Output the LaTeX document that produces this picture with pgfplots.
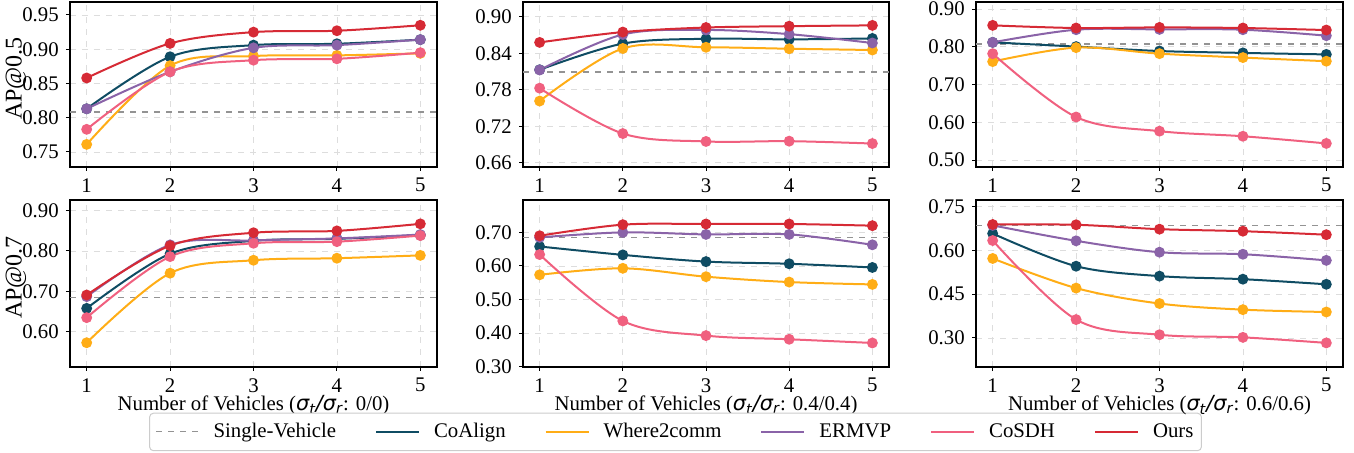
\documentclass[border=0pt]{standalone}
\usepackage{fontspec}
\setmainfont{Liberation Serif}
\newfontfamily\dv{DejaVu Sans}
\usepackage{pgfplots}
\pgfplotsset{compat=1.18}
\definecolor{coalign}{HTML}{0F4C63}
\definecolor{w2c}{HTML}{FFAD16}
\definecolor{ermvp}{HTML}{8A63A8}
\definecolor{cosdh}{HTML}{F0607F}
\definecolor{ours}{HTML}{D62A35}
\definecolor{gridc}{HTML}{DDDDDD}
\newcommand{\xl}[1]{Number of Vehicles ({\dv\itshape σ\textsubscript{t}/σ\textsubscript{r}}: #1)}
\pgfplotsset{
  common/.style={
    scale only axis,
    anchor=north west,
    xmin=0.8, xmax=5.2,
    xtick={1,2,3,4,5},
    xtick pos=left, ytick pos=left,
    tick align=outside,
    major tick length=2pt,
    grid=major,
    grid style={gridc, dashed, line width=0.4pt},
    axis line style={black, line width=0.6pt},
    every tick/.style={black, line width=0.5pt},
    tick label style={font=\fontsize{10.4}{12}\selectfont},
    label style={font=\fontsize{10.4}{12}\selectfont},
    yticklabel style={/pgf/number format/.cd, fixed, fixed zerofill, precision=2, assume math mode=true},
    xticklabel style={/pgf/number format/assume math mode=true},
    every axis plot/.append style={smooth, tension=0.55, line width=1pt, mark=*, mark size=2.2pt},
    xlabel style={yshift=5.5pt},
    ylabel style={at={(axis description cs:0,0.5)}, anchor=center, yshift=27pt, xshift=3pt,
      font=\fontsize{12}{14}\selectfont},
  },
  sv/.style={gray!85, dashed, line width=0.8pt, mark=none, sharp plot},
}
\begin{document}
\fontsize{10.4pt}{12pt}\selectfont
\begin{tikzpicture}
\useasboundingbox (0pt,0pt) rectangle (677pt,-226.5pt);
% ---------------- top-left
\begin{axis}[common, at={(35pt,-1pt)}, width=183.5pt, height=82.5pt,
  ymin=0.728, ymax=0.969, ytick={0.75,0.80,0.85,0.90,0.95}, ylabel={AP@0.5}]
\addplot[sv] coordinates {(0.8,0.8085) (5.2,0.8085)};
\addplot[coalign] coordinates {(1,0.813) (2,0.889) (3,0.906) (4,0.908) (5,0.914)};
\addplot[w2c] coordinates {(1,0.761) (2,0.876) (3,0.890) (4,0.891) (5,0.894)};
\addplot[ermvp] coordinates {(1,0.813) (2,0.867) (3,0.902) (4,0.906) (5,0.914)};
\addplot[cosdh] coordinates {(1,0.783) (2,0.867) (3,0.884) (4,0.886) (5,0.895)};
\addplot[ours] coordinates {(1,0.858) (2,0.9085) (3,0.925) (4,0.927) (5,0.935)};
\end{axis}
% ---------------- top-middle
\begin{axis}[common, at={(261.5pt,-1pt)}, width=183pt, height=82.5pt,
  ymin=0.653, ymax=0.9245, ytick={0.66,0.72,0.78,0.84,0.90}]
\addplot[sv] coordinates {(0.8,0.809) (5.2,0.809)};
\addplot[coalign] coordinates {(1,0.813) (2,0.856) (3,0.864) (4,0.863) (5,0.8645)};
\addplot[w2c] coordinates {(1,0.7615) (2,0.848) (3,0.850) (4,0.8476) (5,0.8455)};
\addplot[ermvp] coordinates {(1,0.8127) (2,0.871) (3,0.8785) (4,0.8716) (5,0.857)};
\addplot[cosdh] coordinates {(1,0.7827) (2,0.708) (3,0.695) (4,0.6955) (5,0.6916)};
\addplot[ours] coordinates {(1,0.858) (2,0.875) (3,0.8825) (4,0.8847) (5,0.886)};
\end{axis}
% ---------------- top-right
\begin{axis}[common, at={(488pt,-1pt)}, width=183.5pt, height=82.5pt,
  ymin=0.4815, ymax=0.919, ytick={0.5,0.6,0.7,0.8,0.9}]
\addplot[sv] coordinates {(0.8,0.8077) (5.2,0.8077)};
\addplot[coalign] coordinates {(1,0.812) (2,0.8007) (3,0.789) (4,0.784) (5,0.780)};
\addplot[w2c] coordinates {(1,0.761) (2,0.798) (3,0.782) (4,0.7716) (5,0.762)};
\addplot[ermvp] coordinates {(1,0.812) (2,0.8455) (3,0.8464) (4,0.8455) (5,0.8297)};
\addplot[cosdh] coordinates {(1,0.782) (2,0.614) (3,0.5765) (4,0.563) (5,0.544)};
\addplot[ours] coordinates {(1,0.857) (2,0.850) (3,0.8516) (4,0.850) (5,0.8446)};
\end{axis}
% ---------------- bottom-left
\begin{axis}[common, at={(35pt,-100pt)}, width=183.5pt, height=83.5pt,
  ymin=0.513, ymax=0.926, ytick={0.6,0.7,0.8,0.9}, ylabel={AP@0.7},
  xlabel={\xl{0/0}}]
\addplot[sv] coordinates {(0.8,0.685) (5.2,0.685)};
\addplot[coalign] coordinates {(1,0.658) (2,0.793) (3,0.825) (4,0.830) (5,0.839)};
\addplot[w2c] coordinates {(1,0.573) (2,0.745) (3,0.777) (4,0.782) (5,0.789)};
\addplot[ermvp] coordinates {(1,0.687) (2,0.815) (3,0.826) (4,0.831) (5,0.8405)};
\addplot[cosdh] coordinates {(1,0.635) (2,0.786) (3,0.819) (4,0.823) (5,0.838)};
\addplot[ours] coordinates {(1,0.691) (2,0.813) (3,0.845) (4,0.8496) (5,0.867)};
\end{axis}
% ---------------- bottom-middle (holds the legend)
\begin{axis}[common, at={(261.5pt,-100pt)}, width=183pt, height=83.5pt,
  ymin=0.299, ymax=0.7965, ytick={0.3,0.4,0.5,0.6,0.7},
  xlabel={\xl{0.4/0.4}},
  legend columns=6,
  legend image code/.code={\draw[#1, mark=none, sharp plot] (0pt,0pt) -- (21.5pt,0pt);},
  legend style={at={(0.4167,-0.389)}, anchor=center, draw=gray!40, fill=white,
    rounded corners=2pt, line width=0.5pt,
    font=\fontsize{10.4}{12}\selectfont,
    inner xsep=3pt, inner ysep=3pt,
    nodes={inner xsep=1pt, inner ysep=2pt},
    /tikz/every odd column/.append style={column sep=6pt},
    /tikz/every even column/.append style={column sep=18.5pt}},
]
\addplot[sv, line width=0.5pt] coordinates {(0.8,0.685) (5.2,0.685)};
\addlegendentry{Single-Vehicle}
\addplot[coalign] coordinates {(1,0.658) (2,0.633) (3,0.613) (4,0.6065) (5,0.5955)};
\addlegendentry{CoAlign}
\addplot[w2c] coordinates {(1,0.5736) (2,0.593) (3,0.568) (4,0.552) (5,0.545)};
\addlegendentry{Where2comm}
\addplot[ermvp] coordinates {(1,0.685) (2,0.700) (3,0.694) (4,0.694) (5,0.663)};
\addlegendentry{ERMVP}
\addplot[cosdh] coordinates {(1,0.634) (2,0.4363) (3,0.3925) (4,0.3816) (5,0.3706)};
\addlegendentry{CoSDH}
\addplot[ours] coordinates {(1,0.690) (2,0.723) (3,0.725) (4,0.725) (5,0.720)};
\addlegendentry{Ours}
\end{axis}
% ---------------- bottom-right
\begin{axis}[common, at={(488pt,-100pt)}, width=183.5pt, height=83.5pt,
  ymin=0.2004, ymax=0.773, ytick={0.30,0.45,0.60,0.75},
  xlabel={\xl{0.6/0.6}}]
\addplot[sv] coordinates {(0.8,0.685) (5.2,0.685)};
\addplot[coalign] coordinates {(1,0.658) (2,0.546) (3,0.512) (4,0.5015) (5,0.484)};
\addplot[w2c] coordinates {(1,0.5725) (2,0.471) (3,0.418) (4,0.397) (5,0.389)};
\addplot[ermvp] coordinates {(1,0.686) (2,0.633) (3,0.594) (4,0.587) (5,0.566)};
\addplot[cosdh] coordinates {(1,0.634) (2,0.363) (3,0.311) (4,0.302) (5,0.283)};
\addplot[ours] coordinates {(1,0.689) (2,0.688) (3,0.673) (4,0.666) (5,0.654)};
\end{axis}
\end{tikzpicture}
\end{document}
